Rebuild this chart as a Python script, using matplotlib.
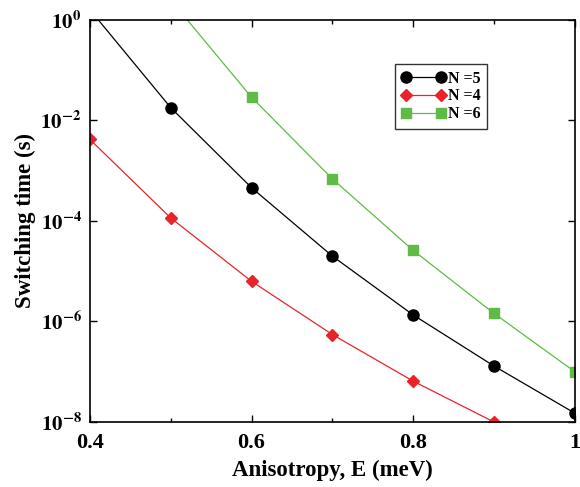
import math
import matplotlib.pyplot as plt
from matplotlib.ticker import FixedLocator, FuncFormatter

plt.rcParams['font.family'] = 'Liberation Serif'
plt.rcParams['font.weight'] = 'bold'
plt.rcParams['mathtext.fontset'] = 'stix'

# Switching time vs anisotropy for three chain lengths
anis = [0.4, 0.5, 0.6, 0.7, 0.8, 0.9, 1.0]
t_n5 = [1.6, 1.8e-2, 4.6e-4, 2.0e-5, 1.35e-6, 1.3e-7, 1.5e-8]
t_n4 = [4.2e-3, 1.15e-4, 6.3e-6, 5.5e-7, 6.5e-8, 1.0e-8]
t_n6 = [2.5, 2.9e-2, 6.9e-4, 2.6e-5, 1.45e-6, 1.0e-7]

fig = plt.figure(figsize=(5.8, 4.87), dpi=100)
ax = fig.add_axes([0.155, 0.1335, 0.836, 0.8255])

ax.plot(anis, t_n5, color='black', lw=0.9, marker='o', ms=8, label='N =5')
ax.plot(anis[:len(t_n4)], t_n4, color='#e8232a', lw=0.9, marker='D', ms=6.5,
        label='N =4')
ax.plot(anis[1:1 + len(t_n6)], t_n6, color='#5dbb46', lw=0.9, marker='s', ms=7.5,
        label='N =6')

ax.set_yscale('log')
ax.set_xlim(0.4, 1.0)
ax.set_ylim(1e-8, 1e0)

ax.xaxis.set_major_locator(FixedLocator([0.4, 0.6, 0.8, 1.0]))
ax.xaxis.set_minor_locator(FixedLocator([0.5, 0.7, 0.9]))
ax.xaxis.set_major_formatter(FuncFormatter(lambda v, p: '1' if abs(v - 1) < 1e-9 else f'{v:.1f}'))
ax.yaxis.set_major_locator(FixedLocator([1e-8, 1e-6, 1e-4, 1e-2, 1e0]))
ax.yaxis.set_minor_locator(FixedLocator([]))
ax.yaxis.set_major_formatter(FuncFormatter(
    lambda v, p: r'$\mathbf{10^{%d}}$' % round(math.log10(v))))

ax.tick_params(which='both', direction='in', top=True, right=True, width=1)
ax.tick_params(axis='x', labelsize=16, pad=8)
ax.tick_params(axis='y', labelsize=15, pad=6)
ax.tick_params(which='major', length=5)
ax.tick_params(which='minor', length=3)
for s in ax.spines.values():
    s.set_linewidth(1.2)

ax.set_xlabel('Anisotropy, E (meV)', fontsize=16.5, fontweight='bold', labelpad=5)
ax.set_ylabel('Switching time (s)', fontsize=16.5, fontweight='bold', labelpad=3)

leg = ax.legend(loc='upper left', bbox_to_anchor=(0.612, 0.91), numpoints=2,
                frameon=True, fancybox=False, handlelength=2.8,
                borderpad=0.4, labelspacing=0.12, handletextpad=0.15,
                prop={'weight': 'bold', 'size': 11.5})
leg.get_frame().set_edgecolor('black')
leg.get_frame().set_linewidth(1)

plt.savefig('out.png', dpi=100)
